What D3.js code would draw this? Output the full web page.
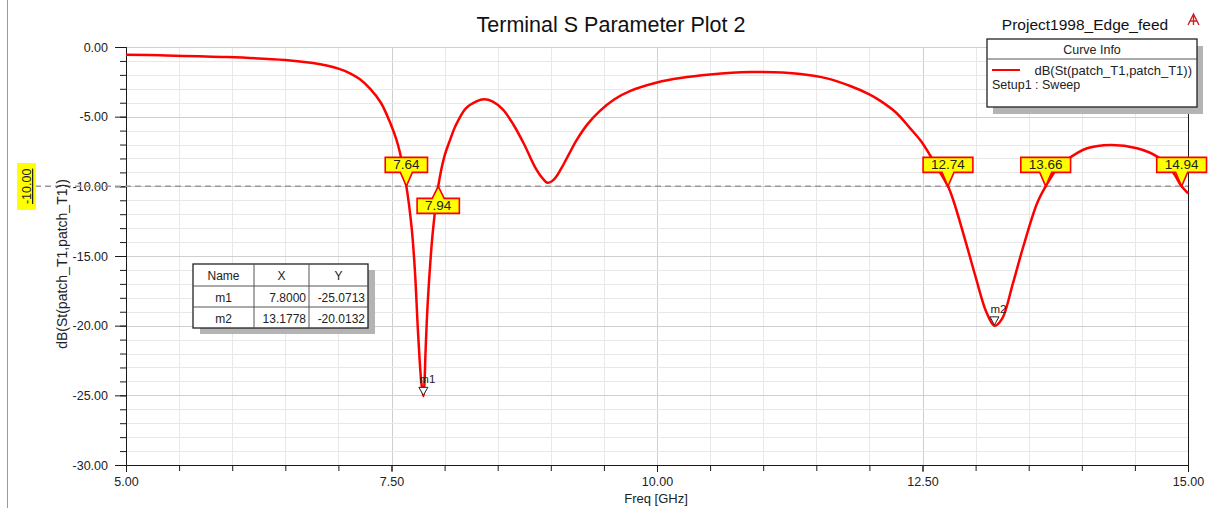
<!DOCTYPE html>
<html><head><meta charset="utf-8">
<script src="https://cdn.jsdelivr.net/npm/d3@7"></script>
<style>body{margin:0;background:#fff;} svg{display:block;font-family:"Liberation Sans",Arial,sans-serif;}</style>
</head><body><svg id="c" width="1213" height="508"></svg>
<script>
// ---- data ----
const freq = [5.0,5.32,5.95,6.5,6.76,6.9,7.0,7.1,7.2,7.3,7.4,7.48,7.56,7.64,7.69,7.72,7.75,7.78,7.80,7.81,7.82,7.84,7.87,7.89,7.94,8.0,8.05,8.1,8.2,8.3,8.37,8.45,8.55,8.65,8.75,8.85,8.92,8.97,9.03,9.1,9.17,9.25,9.35,9.46,9.6,9.75,10.0,10.22,10.5,10.88,11.1,11.35,11.6,11.82,12.0,12.1,12.25,12.38,12.48,12.57,12.65,12.74,12.79,12.9,13.0,13.1,13.1778,13.25,13.35,13.45,13.58,13.66,13.76,13.86,14.05,14.27,14.52,14.71,14.85,14.94,15.0];
const s11  = [-0.55,-0.6,-0.72,-0.93,-1.15,-1.35,-1.55,-1.85,-2.3,-3.0,-4.0,-5.3,-7.0,-10,-13,-16,-20.5,-24,-25.07,-24.2,-22,-18.5,-15,-13.2,-10,-7.8,-6.7,-5.7,-4.4,-3.9,-3.75,-3.9,-4.5,-5.6,-7.0,-8.6,-9.4,-9.75,-9.5,-8.7,-7.7,-6.6,-5.5,-4.6,-3.75,-3.15,-2.55,-2.23,-1.98,-1.8,-1.82,-1.94,-2.25,-2.8,-3.4,-3.85,-4.7,-5.8,-6.7,-7.75,-8.8,-10,-11,-13.8,-16.5,-19,-20.01,-19.5,-17,-14.3,-11.2,-10,-8.8,-8.1,-7.27,-7.03,-7.27,-7.87,-8.9,-10,-10.5];
const crossFreqs  = [7.64, 7.94, 12.74, 13.66, 14.94];
const crossLabels = ["7.64", "7.94", "12.74", "13.66", "14.94"];
const crossBelow  = [false, true, false, false, false];
const markerNames = ["m1", "m2"];
const markerX = [7.8, 13.1778];
const markerY = [-25.0713, -20.0132];
const tableHead = ["Name", "X", "Y"];
const tableX = ["7.8000", "13.1778"];
const tableY = ["-25.0713", "-20.0132"];
const xTicks = [5, 7.5, 10, 12.5, 15];
const yTicks = [0, -5, -10, -15, -20, -25, -30];
const refLevel = -10;
const titleText = "Terminal S Parameter Plot 2";
const projectText = "Project1998_Edge_feed";
const seriesName = "dB(St(patch_T1,patch_T1))";
const setupText = "Setup1 : Sweep";
const xLabel = "Freq [GHz]";
const yLabel = "dB(St(patch_T1,patch_T1))";

// ---- layout ----
const svg = d3.select("#c");
const L = 126, R = 1188, T = 47, B = 465;
const x = d3.scaleLinear().domain([5, 15]).range([L, R]);
const y = d3.scaleLinear().domain([-30, 0]).range([B, T]);
const f2 = d3.format(".2f");
const fmt = v => f2(v).replace("\u2212", "-");

// window border
svg.append("line").attr("x1", 7.5).attr("x2", 7.5).attr("y1", 0).attr("y2", 508).attr("stroke", "#9a9a9a");

// grid
const g = svg.append("g");
d3.range(5, 15.001, 0.5).forEach(v => {
  const major = Math.abs(v / 2.5 - Math.round(v / 2.5)) < 1e-6;
  g.append("line").attr("x1", Math.round(x(v)) + 0.5).attr("x2", Math.round(x(v)) + 0.5).attr("y1", T).attr("y2", B)
    .attr("stroke", major ? "#cfcfcf" : "#e8e8e8").attr("stroke-width", 1);
});
d3.range(-30, 0.001, 1).forEach(v => {
  const major = v % 5 === 0;
  g.append("line").attr("x1", L).attr("x2", R).attr("y1", Math.round(y(v)) + 0.5).attr("y2", Math.round(y(v)) + 0.5)
    .attr("stroke", major ? "#cfcfcf" : "#e8e8e8").attr("stroke-width", 1);
});

// axes
const yMinor = svg.append("g").attr("transform", `translate(${L},0)`)
  .call(d3.axisLeft(y).tickValues(d3.range(-30, 0.001, 1)).tickSize(6).tickFormat(""));
const yAx = svg.append("g").attr("transform", `translate(${L},0)`)
  .call(d3.axisLeft(y).tickValues(yTicks).tickSize(11).tickPadding(7).tickFormat(fmt));
const xMinor = svg.append("g").attr("transform", `translate(0,${B})`)
  .call(d3.axisBottom(x).tickValues(d3.range(5, 15.001, 0.5)).tickSize(6).tickFormat(""));
const xAx = svg.append("g").attr("transform", `translate(0,${B})`)
  .call(d3.axisBottom(x).tickValues(xTicks).tickSize(7).tickPadding(5).tickFormat(fmt));
[yMinor, yAx, xMinor, xAx].forEach(a => {
  a.select(".domain").attr("stroke", "#1a1a1a");
  a.selectAll(".tick line").attr("stroke", "#1a1a1a");
  a.selectAll("text").attr("font-family", "Liberation Sans, Arial, sans-serif").attr("font-size", 12.5).attr("fill", "#222");
});
svg.append("line").attr("x1", R + 0.5).attr("x2", R + 0.5).attr("y1", 107).attr("y2", B).attr("stroke", "#1a1a1a");

// reference dashed line
svg.append("line").attr("x1", 35).attr("x2", R).attr("y1", y(refLevel)).attr("y2", y(refLevel))
  .attr("stroke", "#999").attr("stroke-width", 1.5).attr("stroke-dasharray", "6,4");

// curve
const line = d3.line().x((d, i) => x(freq[i])).y(d => y(d)).curve(d3.curveCatmullRom.alpha(0.5));
svg.append("path").datum(s11).attr("d", line).attr("fill", "none").attr("stroke", "#ff0000").attr("stroke-width", 2.5);

// crossing callouts
crossFreqs.forEach((f, i) => {
  const cx = x(f), cy = y(refLevel);
  const t = svg.append("text").text(crossLabels[i]).attr("font-size", 13.5).attr("fill", "#222").attr("text-anchor", "middle");
  const w = t.node().getComputedTextLength() + 16, h = 15, pw = 6;
  let p;
  if (!crossBelow[i]) {
    const by = cy - 14;
    p = `M${cx - w / 2},${by - h}H${cx + w / 2}V${by}H${cx + pw}L${cx},${cy}L${cx - pw},${by}H${cx - w / 2}Z`;
    t.attr("x", cx).attr("y", by - 3);
  } else {
    const by = cy + 12;
    p = `M${cx - w / 2},${by}H${cx - pw}L${cx},${cy}L${cx + pw},${by}H${cx + w / 2}V${by + h}H${cx - w / 2}Z`;
    t.attr("x", cx).attr("y", by + h - 3);
  }
  svg.insert("path", () => t.node()).attr("d", p).attr("fill", "#ffff00").attr("stroke", "#ff0000").attr("stroke-width", 1.6);
});

// marker symbols
markerNames.forEach((m, i) => {
  const px = x(markerX[i]), py = y(markerY[i]);
  svg.append("path").attr("d", `M${px - 4.5},${py - 9}H${px + 4.5}L${px},${py - 1}Z`)
    .attr("fill", "#fff").attr("stroke", "#222").attr("stroke-width", 1);
  svg.append("text").attr("x", px - 4).attr("y", py - 13).text(m).attr("font-size", 11.5).attr("fill", "#222");
});

// marker table
const tx = 193, ty = 264, colW = [61, 55, 59], rowH = [22, 21, 21];
const tw = d3.sum(colW), th = d3.sum(rowH);
svg.append("rect").attr("x", tx + 7).attr("y", ty + 6).attr("width", tw).attr("height", th).attr("fill", "#b4b4b4");
svg.append("rect").attr("x", tx).attr("y", ty).attr("width", tw).attr("height", th).attr("fill", "#fff").attr("stroke", "#222").attr("stroke-width", 1.3);
let cxs = [tx], acc = tx; colW.forEach(w => { acc += w; cxs.push(acc); });
let rys = [ty]; acc = ty; rowH.forEach(h => { acc += h; rys.push(acc); });
cxs.slice(1, -1).forEach(v => svg.append("line").attr("x1", v).attr("x2", v).attr("y1", ty).attr("y2", ty + th).attr("stroke", "#555"));
rys.slice(1, -1).forEach(v => svg.append("line").attr("x1", tx).attr("x2", tx + tw).attr("y1", v).attr("y2", v).attr("stroke", "#555"));
tableHead.forEach((h, j) => svg.append("text").attr("x", (cxs[j] + cxs[j + 1]) / 2).attr("y", rys[1] - 6)
  .attr("text-anchor", "middle").attr("font-size", 12).attr("fill", "#222").text(h));
markerNames.forEach((m, i) => {
  const by = rys[i + 2] - 5;
  svg.append("text").attr("x", (cxs[0] + cxs[1]) / 2).attr("y", by).attr("text-anchor", "middle").attr("font-size", 12).attr("fill", "#222").text(m);
  svg.append("text").attr("x", cxs[2] - 3).attr("y", by).attr("text-anchor", "end").attr("font-size", 12).attr("fill", "#222").text(tableX[i]);
  svg.append("text").attr("x", cxs[3] - 3).attr("y", by).attr("text-anchor", "end").attr("font-size", 12).attr("fill", "#222").text(tableY[i]);
});

// legend box
const lx = 987, ly = 39, lw = 210, lh = 68;
svg.append("rect").attr("x", lx + 6).attr("y", ly + 7).attr("width", lw).attr("height", lh).attr("fill", "#b4b4b4");
svg.append("rect").attr("x", lx).attr("y", ly).attr("width", lw).attr("height", lh).attr("fill", "#fff").attr("stroke", "#222").attr("stroke-width", 1.3);
svg.append("line").attr("x1", lx).attr("x2", lx + lw).attr("y1", ly + 20).attr("y2", ly + 20).attr("stroke", "#555");
svg.append("text").attr("x", lx + lw / 2).attr("y", ly + 15).attr("text-anchor", "middle").attr("font-size", 12.5).attr("fill", "#222").text("Curve Info");
svg.append("line").attr("x1", 992).attr("x2", 1020).attr("y1", 70).attr("y2", 70).attr("stroke", "#ff0000").attr("stroke-width", 2);
svg.append("text").attr("x", 1192).attr("y", 75).attr("text-anchor", "end").attr("font-size", 13).attr("fill", "#222").text(seriesName);
svg.append("text").attr("x", 992).attr("y", 89).attr("font-size", 12.5).attr("fill", "#222").text(setupText);

// titles
svg.append("text").attr("x", 611).attr("y", 32).attr("text-anchor", "middle").attr("font-size", 21.5).attr("fill", "#111").text(titleText);
svg.append("text").attr("x", 1085).attr("y", 30).attr("text-anchor", "middle").attr("font-size", 15.5).attr("fill", "#111").text(projectText);
svg.append("path").attr("d", "M1188,25L1193.5,14L1199,25M1190.5,21H1196.5M1193.5,14V25").attr("fill", "none").attr("stroke", "#d02020").attr("stroke-width", 1.4);

// axis labels
svg.append("text").attr("x", 656).attr("y", 503).attr("text-anchor", "middle").attr("font-size", 13).attr("fill", "#222").text(xLabel);
svg.append("text").attr("transform", "translate(67,264) rotate(-90)").attr("text-anchor", "middle")
  .attr("font-size", 14).attr("fill", "#222").text(yLabel);

// reference level label (rotated, yellow)
svg.append("rect").attr("x", 17).attr("y", 163).attr("width", 19).attr("height", 47).attr("fill", "#ffff00");
svg.append("text").attr("transform", `translate(31,${y(refLevel)}) rotate(-90)`).attr("text-anchor", "middle")
  .attr("font-size", 12.5).attr("fill", "#222").attr("text-decoration", "underline").text(fmt(refLevel));
</script></body></html>
